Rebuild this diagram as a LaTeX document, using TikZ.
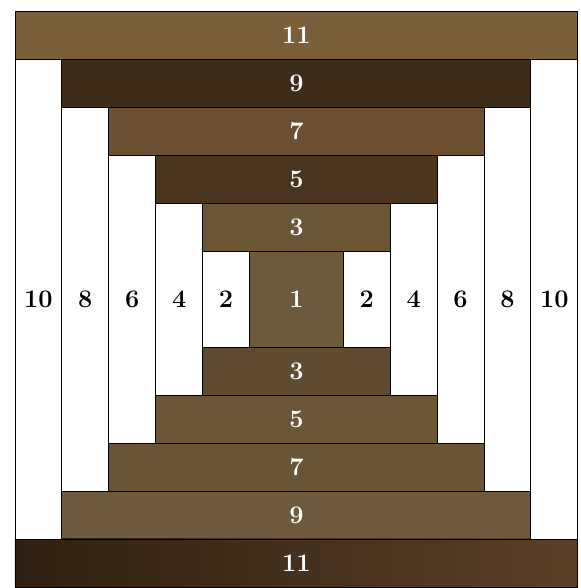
\documentclass[tikz,border=0pt]{standalone}
\usepackage{tikz}
\usetikzlibrary{positioning}
\definecolor{brownA}{HTML}{7B5E3A}
\definecolor{brownB}{HTML}{3E2C1A}
\definecolor{brownC}{HTML}{6B4F30}
\definecolor{brownD}{HTML}{4A3620}
\definecolor{brownE}{HTML}{6A5535}
\definecolor{brownF}{HTML}{6B5A3C}
\definecolor{brownG}{HTML}{5F4C30}
\definecolor{brownH}{HTML}{6B5738}
\definecolor{brownI}{HTML}{6A5436}
\definecolor{brownJ}{HTML}{6E5A3C}
\definecolor{brownK}{HTML}{2E2012}
\definecolor{brownL}{HTML}{5A4028}
\newcommand{\ux}{0.938cm}
\newcommand{\uy}{0.96cm}
\tikzset{
    darkpiece/.style={
        draw=black,
        line width=0.5pt,
        text=white,
        font=\Large\bfseries,
        inner sep=0pt
    },
    lightpiece/.style={
        draw=black,
        line width=0.5pt,
        fill=white,
        text=black,
        font=\Large\bfseries,
        inner sep=0pt
    },
    across/.style={
        minimum width=#1*\ux,
        minimum height=\uy
    },
    upright/.style={
        minimum width=\ux,
        minimum height=#1*\uy
    }
}

\begin{document}
\begin{tikzpicture}[x=\ux,y=-\uy]

\useasboundingbox (-0.3198,-0.229) rectangle (12.068,12.021);

% Top half
\node[darkpiece,across=12,fill=brownA] (topeleven) at (6,0.5)  {11};
\node[darkpiece,across=10,fill=brownB] (topnine)   at (6,1.5)  {9};
\node[darkpiece,across=8,fill=brownC]  (topseven)  at (6,2.5)  {7};
\node[darkpiece,across=6,fill=brownD]  (topfive)   at (6,3.5)  {5};
\node[darkpiece,across=4,fill=brownE]  (topthree)  at (6,4.5)  {3};

% Centre
\node[darkpiece,minimum width=2*\ux,minimum height=2*\uy,fill=brownF] (centre) at (6,6) {1};

% Bottom half
\node[darkpiece,across=4,fill=brownG]  (botthree)  at (6,7.5)  {3};
\node[darkpiece,across=6,fill=brownH]  (botfive)   at (6,8.5)  {5};
\node[darkpiece,across=8,fill=brownI]  (botseven)  at (6,9.5)  {7};
\node[darkpiece,across=10,fill=brownJ] (botnine)   at (6,10.5) {9};
\node[darkpiece,across=12,left color=brownK,right color=brownL] (boteleven) at (6,11.5) {11};

% Left strips
\node[lightpiece,upright=10] (leftten)   at (0.5,6) {10};
\node[lightpiece,upright=8]  (lefteight) at (1.5,6) {8};
\node[lightpiece,upright=6]  (leftsix)   at (2.5,6) {6};
\node[lightpiece,upright=4]  (leftfour)  at (3.5,6) {4};
\node[lightpiece,upright=2]  (lefttwo)   at (4.5,6) {2};

% Right strips
\node[lightpiece,upright=2]  (righttwo)   at (7.5,6)  {2};
\node[lightpiece,upright=4]  (rightfour)  at (8.5,6)  {4};
\node[lightpiece,upright=6]  (rightsix)   at (9.5,6)  {6};
\node[lightpiece,upright=8]  (righteight) at (10.5,6) {8};
\node[lightpiece,upright=10] (rightten)   at (11.5,6) {10};

\end{tikzpicture}
\end{document}
